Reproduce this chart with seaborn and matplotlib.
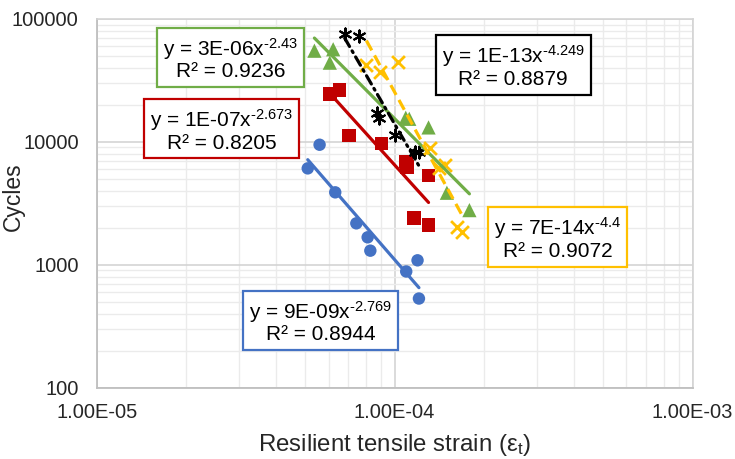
import numpy as np
import pandas as pd
import matplotlib
matplotlib.use("Agg")
import matplotlib.pyplot as plt
import seaborn as sns
from matplotlib.ticker import FixedLocator, FixedFormatter, NullFormatter

# ---------------- data ----------------
blue_strain = [5.60e-5, 5.11e-5, 6.32e-5, 7.44e-5, 8.12e-5, 8.29e-5, 1.094e-4, 1.194e-4, 1.207e-4]
blue_cycles = [9470, 6080, 3880, 2170, 1670, 1300, 880, 1085, 530]

red_strain = [6.06e-5, 6.53e-5, 7.02e-5, 9.03e-5, 1.092e-4, 1.100e-4, 1.300e-4, 1.164e-4, 1.300e-4]
red_cycles = [24500, 26400, 11300, 9720, 6890, 6270, 5300, 2410, 2100]

green_strain = [5.38e-5, 6.22e-5, 6.06e-5, 1.09e-4, 1.12e-4, 1.300e-4, 1.498e-4, 1.783e-4]
green_cycles = [55200, 56700, 44100, 15700, 15400, 13100, 3850, 2780]

black_strain = [6.80e-5, 7.58e-5, 8.73e-5, 8.84e-5, 1.005e-4, 1.173e-4, 1.203e-4]
black_cycles = [75500, 72700, 17100, 15500, 11400, 8310, 8220]

yellow_strain = [8.04e-5, 8.91e-5, 1.023e-4, 1.317e-4, 1.414e-4, 1.478e-4, 1.618e-4, 1.681e-4]
yellow_cycles = [42200, 37000, 44900, 8950, 6080, 6470, 2035, 1855]

equations = ["y = 9E-09x", "y = 1E-07x", "y = 3E-06x", "y = 1E-13x", "y = 7E-14x"]
exponents = ["-2.769", "-2.673", "-2.43", "-4.249", "-4.4"]
r_squared = ["0.8944", "0.8205", "0.9236", "0.8879", "0.9072"]

x_tick_values = [1e-5, 1e-4, 1e-3]
x_tick_labels = ["1.00E-05", "1.00E-04", "1.00E-03"]
y_tick_values = [100, 1000, 10000, 100000]
y_tick_labels = ["100", "1000", "10000", "100000"]

x_label = "Resilient tensile strain (\u03b5$_\\mathregular{t}$)"
y_label = "Cycles"

# ---------------- style ----------------
sns.set_theme(style="white")
plt.rcParams["font.family"] = ["Liberation Sans", "DejaVu Sans"]
plt.rcParams["mathtext.fontset"] = "custom"
plt.rcParams["mathtext.rm"] = "Liberation Sans"
plt.rcParams["mathtext.it"] = "Liberation Sans:italic"
plt.rcParams["mathtext.bf"] = "Liberation Sans:bold"

C_BLUE = "#4472C4"
C_RED = "#C00000"
C_GREEN = "#70AD47"
C_BLACK = "#000000"
C_YELLOW = "#FFC000"
TXT = "#262626"

W, H = 735, 459
fig = plt.figure(figsize=(W / 100, H / 100), dpi=100)
ax_left, ax_right, ax_top, ax_bottom = 96.7, 692.5, 19.0, 387.5
ax = fig.add_axes([ax_left / W, 1 - ax_bottom / H, (ax_right - ax_left) / W, (ax_bottom - ax_top) / H])

ax.set_xscale("log")
ax.set_yscale("log")
ax.set_xlim(1e-5, 1e-3)
ax.set_ylim(100, 100000)

# grid
minor_x = [m * 10.0 ** e for e in (-5, -4) for m in range(2, 10)]
minor_y = [m * 10.0 ** e for e in (2, 3, 4) for m in range(2, 10)]
ax.xaxis.set_major_locator(FixedLocator(x_tick_values))
ax.xaxis.set_major_formatter(FixedFormatter(x_tick_labels))
ax.yaxis.set_major_locator(FixedLocator(y_tick_values))
ax.yaxis.set_major_formatter(FixedFormatter(y_tick_labels))
ax.xaxis.set_minor_locator(FixedLocator(minor_x))
ax.yaxis.set_minor_locator(FixedLocator(minor_y))
ax.xaxis.set_minor_formatter(NullFormatter())
ax.yaxis.set_minor_formatter(NullFormatter())
ax.grid(which="major", color="#D4D4D4", linewidth=1.2)
ax.grid(which="minor", color="#EBEBEB", linewidth=1.0)
ax.set_axisbelow(True)
ax.tick_params(which="both", length=0)
ax.tick_params(axis="x", pad=11, labelsize=14.5, labelcolor=TXT)
ax.tick_params(axis="y", pad=13, labelsize=14.5, labelcolor=TXT)
for side in ("top", "right"):
    ax.spines[side].set_color("#D4D4D4")
    ax.spines[side].set_linewidth(1.2)
for side in ("left", "bottom"):
    ax.spines[side].set_color("#BFBFBF")
    ax.spines[side].set_linewidth(1.3)

series = [
    (blue_strain, blue_cycles, C_BLUE, "o", 80, "-", None),
    (red_strain, red_cycles, C_RED, "s", 95, "-", None),
    (green_strain, green_cycles, C_GREEN, "^", 105, "-", None),
    (black_strain, black_cycles, C_BLACK, (6, 2, 0), 75, "dashdot", (3.0, 1.6, 0.6, 1.6)),
    (yellow_strain, yellow_cycles, C_YELLOW, "X_", 85, "dashed", (3.5, 1.8)),
]

for xs, ys, col, mk, size, ls, dashes in series:
    df = pd.DataFrame({"strain": xs, "cycles": ys})
    if mk == "X_":
        sns.scatterplot(data=df, x="strain", y="cycles", marker="x", color=col,
                        s=size, linewidth=2.0, ax=ax, zorder=3)
    elif isinstance(mk, tuple):
        sns.scatterplot(data=df, x="strain", y="cycles", marker=mk, color=col,
                        edgecolor=col, s=size, linewidth=1.5, ax=ax, zorder=3)
    else:
        sns.scatterplot(data=df, x="strain", y="cycles", marker=mk, color=col,
                        edgecolor="none", s=size, linewidth=0, ax=ax, zorder=3)
    # power trendline fitted in log-log space (as Excel does)
    lx, ly = np.log10(xs), np.log10(ys)
    b, a = np.polyfit(lx, ly, 1)
    xfit = np.array([min(xs), max(xs)])
    yfit = 10 ** (a + b * np.log10(xfit))
    fit = pd.DataFrame({"strain": xfit, "cycles": yfit})
    sns.lineplot(data=fit, x="strain", y="cycles", color=col, linewidth=2.3,
                 ax=ax, zorder=4, estimator=None, sort=False)
    ln = ax.lines[-1]
    if dashes is not None:
        ln.set_dashes(dashes)
        ln.set_dash_capstyle("butt" if ls == "dashed" else "round")

ax.set_xlabel(x_label, fontsize=17.3, color=TXT, labelpad=7)
ax.set_ylabel(y_label, fontsize=16.5, color=TXT)
ax.yaxis.set_label_coords((25 - ax_left) / (ax_right - ax_left), (ax_bottom - 197) / (ax_bottom - ax_top))

# equation boxes (centers in pixels)
box_centers = [(320.5, 321.5), (221.7, 129.7), (230.5, 58.5), (513.3, 65.9), (557.5, 237.9)]
box_colors = [C_BLUE, C_RED, C_GREEN, C_BLACK, C_YELLOW]
for (cx, cy), col, eq, ex, r2 in zip(box_centers, box_colors, equations, exponents, r_squared):
    txt = eq + "$^{\\mathregular{" + ex.replace("-", "\u2010") + "}}$\nR\u00b2 = " + r2
    fig.text(cx / W, 1 - cy / H, txt, ha="center", va="center", multialignment="center",
             fontsize=15, color="#000000", linespacing=1.05, zorder=10,
             bbox=dict(boxstyle="square,pad=0.28", facecolor="white", edgecolor=col,
                       linewidth=1.6))

fig.savefig("out.png", dpi=100)
